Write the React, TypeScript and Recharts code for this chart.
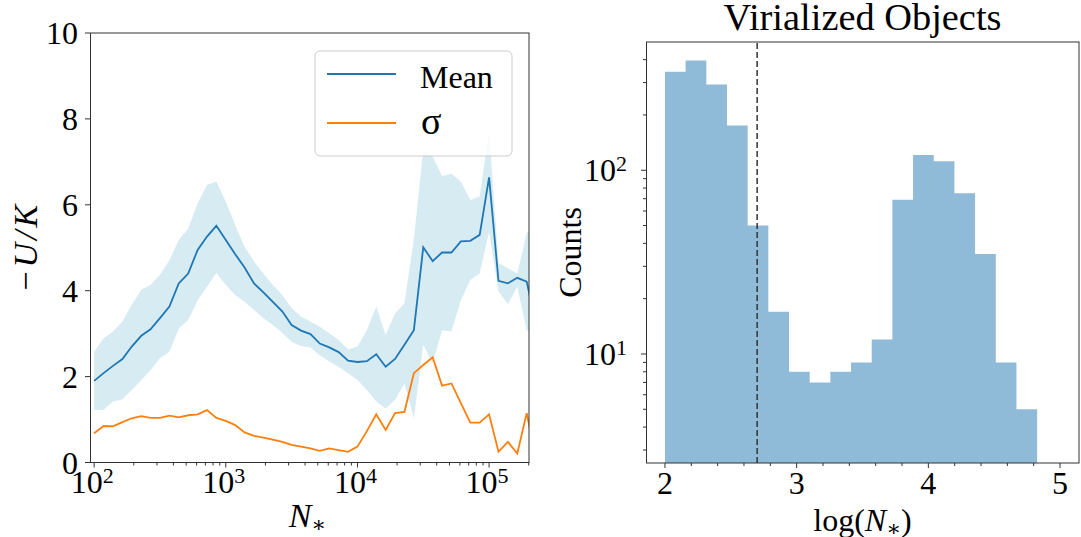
import React from 'react';
import { ComposedChart, Line, Area, XAxis, YAxis, ReferenceLine } from 'recharts';

// left panel: N_* bins (log spaced), mean of -U/K, its spread and sigma
const nStars = [
  100, 118, 139, 164, 193, 228, 268, 316, 373, 439, 518, 611, 720, 848,
  1000, 1179, 1389, 1638, 1931, 2276, 2683, 3162, 3728, 4394, 5179, 6105, 7197, 8483,
  10000, 11788, 13895, 16379, 19307, 22758, 26827, 31623, 37276, 43940, 51795, 61054, 71969, 84834,
  100000, 117877, 138950, 163789, 193070, 227585,
];
const meanRatio = [
  1.9, 2.08, 2.25, 2.41, 2.7, 2.95, 3.1, 3.36, 3.63, 4.17, 4.4, 4.95, 5.26, 5.51,
  5.18, 4.85, 4.54, 4.17, 3.96, 3.74, 3.52, 3.2, 3.07, 2.99, 2.77, 2.68, 2.57, 2.37,
  2.34, 2.36, 2.52, 2.23, 2.41, 2.74, 3.08, 5.01, 4.69, 4.89, 4.89, 5.15, 5.16, 5.3,
  6.64, 4.23, 4.17, 4.3, 4.21, 3.2,
];
const upperRatio = [
  2.58, 2.89, 3.05, 3.28, 3.67, 4.02, 4.13, 4.37, 4.71, 5.18, 5.45, 6.03, 6.46, 6.54,
  6.07, 5.53, 5.02, 4.68, 4.4, 4.13, 3.9, 3.59, 3.4, 3.28, 3.16, 3.01, 2.85, 2.63,
  2.7, 3.08, 3.63, 2.97, 3.47, 3.71, 5.2, 7.28, 7.12, 6.67, 6.72, 6.54, 6.11, 6.2,
  7.7, 4.64, 4.52, 4.4, 5.34, 5.6,
];
const lowerRatio = [
  1.22, 1.23, 1.42, 1.47, 1.69, 1.92, 2.15, 2.43, 2.58, 3.12, 3.32, 3.78, 4.09, 4.42,
  4.13, 3.9, 3.74, 3.55, 3.36, 3.2, 3.02, 2.81, 2.71, 2.68, 2.5, 2.35, 2.23, 2.08,
  1.92, 1.69, 1.42, 1.26, 1.46, 1.84, 1.03, 2.74, 2.31, 3.08, 3.05, 3.78, 4.25, 4.4,
  5.37, 3.98, 3.69, 4.09, 3.08, 3.0,
];
const sigmaRatio = [
  0.68, 0.85, 0.84, 0.94, 1.03, 1.08, 1.04, 1.04, 1.09, 1.05, 1.1, 1.12, 1.22, 1.04,
  0.97, 0.87, 0.7, 0.62, 0.58, 0.53, 0.48, 0.41, 0.37, 0.33, 0.27, 0.33, 0.29, 0.25,
  0.37, 0.73, 1.12, 0.76, 1.15, 1.18, 2.08, 2.27, 2.45, 1.79, 1.84, 1.38, 0.93, 0.93,
  1.12, 0.25, 0.48, 0.21, 1.15, 0.05,
];

const xMajorTicks = [100, 1000, 10000, 100000];
const xMajorExponents = ['2', '3', '4', '5'];
const xMinorTicks = [
  200, 300, 400, 500, 600, 700, 800, 900,
  2000, 3000, 4000, 5000, 6000, 7000, 8000, 9000,
  20000, 30000, 40000, 50000, 60000, 70000, 80000, 90000,
  200000,
];
const yTicksLeft = [0, 2, 4, 6, 8, 10];

// right panel: histogram of log(N_*)
const binEdges = [
  2.0, 2.157, 2.314, 2.471, 2.628, 2.785, 2.942, 3.099, 3.256, 3.413,
  3.57, 3.727, 3.884, 4.041, 4.198, 4.355, 4.512, 4.669, 4.826,
];
const binCounts = [344, 396, 293, 175, 50, 17, 8, 7, 8, 9, 12, 69, 121, 112, 75, 35, 9, 5];
const cutLogN = 2.7;

const histXMajor = [2, 3, 4, 5];
const histXMinor = [2.2, 2.4, 2.6, 2.8, 3.2, 3.4, 3.6, 3.8, 4.2, 4.4, 4.6, 4.8];
const histYMajor = [10, 100];
const histYExponents = ['1', '2'];
const histYMinor = [3, 4, 5, 6, 7, 8, 9, 20, 30, 40, 50, 60, 70, 80, 90, 200, 300, 400];

const leftData = nStars.map((n, i) => ({
  n,
  mean: meanRatio[i],
  band: [lowerRatio[i], upperRatio[i]],
  sigma: sigmaRatio[i],
}));

// step area needs the closing edge, repeating the last count
const histData = binEdges.map((edge, i) => ({
  edge,
  count: binCounts[Math.min(i, binCounts.length - 1)],
}));

const FONT = '"Liberation Serif", "DejaVu Serif", serif';
const INK = '#333';

const LogXTick = (props: any) => {
  const { x, y, payload } = props;
  const idx = xMajorTicks.indexOf(payload.value);
  const major = idx >= 0;
  return (
    <g>
      <line x1={x} x2={x} y1={y} y2={y + (major ? 5 : 3)} stroke={INK} strokeWidth={1} />
      {major && (
        <text x={x - 2} y={y + 30} textAnchor="middle" fontSize={32} fontFamily={FONT} fill="#000">
          10
          <tspan dy={-10} fontSize={22}>{xMajorExponents[idx]}</tspan>
        </text>
      )}
    </g>
  );
};

const LinearYTick = (props: any) => {
  const { x, y, payload } = props;
  return (
    <g>
      <line x1={x} x2={x - 5} y1={y} y2={y} stroke={INK} strokeWidth={1} />
      <text x={x - 12} y={y + 11} textAnchor="end" fontSize={32} fontFamily={FONT} fill="#000">
        {payload.value}
      </text>
    </g>
  );
};

const HistXTick = (props: any) => {
  const { x, y, payload } = props;
  const major = histXMajor.includes(payload.value);
  return (
    <g>
      <line x1={x} x2={x} y1={y} y2={y + (major ? 5 : 3)} stroke={INK} strokeWidth={1} />
      {major && (
        <text x={x} y={y + 31} textAnchor="middle" fontSize={32} fontFamily={FONT} fill="#000">
          {payload.value}
        </text>
      )}
    </g>
  );
};

const LogYTick = (props: any) => {
  const { x, y, payload } = props;
  const idx = histYMajor.indexOf(payload.value);
  const major = idx >= 0;
  return (
    <g>
      <line x1={x} x2={x - (major ? 5 : 3)} y1={y} y2={y} stroke={INK} strokeWidth={1} />
      {major && (
        <text x={x - 19} y={y + 11} textAnchor="end" fontSize={32} fontFamily={FONT} fill="#000">
          10
          <tspan dy={-10} fontSize={22}>{histYExponents[idx]}</tspan>
        </text>
      )}
    </g>
  );
};

const App = () => {
  return (
    <div
      style={{
        position: 'absolute',
        left: 0,
        top: 0,
        width: 1081,
        height: 537,
        background: '#fff',
        fontFamily: FONT,
      }}
    >
      {/* left panel */}
      <div style={{ position: 'absolute', left: 0, top: 0 }}>
        <ComposedChart width={540} height={537} data={leftData} margin={{ top: 33, right: 11, left: 0, bottom: 0 }}>
          <XAxis
            dataKey="n"
            type="number"
            scale="log"
            domain={[93, 201000]}
            allowDataOverflow
            ticks={[...xMajorTicks, ...xMinorTicks]}
            interval={0}
            height={74.5}
            tickSize={0}
            tickMargin={0}
            axisLine={false}
            tickLine={false}
            tick={<LogXTick />}
            label={{
              content: (p: any) => (
                <text
                  x={p.viewBox.x + p.viewBox.width / 2 - 2}
                  y={p.viewBox.y + 64.5}
                  textAnchor="middle"
                  fontSize={34}
                  fontFamily={FONT}
                  fill="#000"
                >
                  <tspan fontStyle="italic">N</tspan>
                  <tspan fontSize={22} dy={5}>∗</tspan>
                </text>
              ),
            }}
          />
          <YAxis
            type="number"
            domain={[0, 10]}
            ticks={yTicksLeft}
            interval={0}
            width={90}
            tickSize={0}
            tickMargin={0}
            axisLine={false}
            tickLine={false}
            tick={<LinearYTick />}
            label={{
              content: (p: any) => (
                <text
                  transform={`translate(${p.viewBox.x + 36.5},${p.viewBox.y + p.viewBox.height / 2}) rotate(-90)`}
                  textAnchor="middle"
                  fontSize={34}
                  fontFamily={FONT}
                  fill="#000"
                >
                  <tspan>−</tspan>
                  <tspan dx={4} fontStyle="italic">U</tspan>
                  <tspan dx={3} fontStyle="italic">/</tspan>
                  <tspan dx={3} fontStyle="italic">K</tspan>
                </text>
              ),
            }}
          />
          <Area
            dataKey="band"
            type="linear"
            stroke="none"
            fill="#add8e6"
            fillOpacity={0.5}
            isAnimationActive={false}
            activeDot={false}
          />
          <Line
            dataKey="mean"
            type="linear"
            stroke="#1f77b4"
            strokeWidth={1.8}
            dot={false}
            activeDot={false}
            isAnimationActive={false}
          />
          <Line
            dataKey="sigma"
            type="linear"
            stroke="#ff7f0e"
            strokeWidth={1.8}
            dot={false}
            activeDot={false}
            isAnimationActive={false}
          />
        </ComposedChart>
      </div>

      {/* right panel */}
      <div style={{ position: 'absolute', left: 540, top: 0 }}>
        <ComposedChart width={541} height={537} data={histData} margin={{ top: 42, right: 2, left: 0, bottom: 0 }}>
          <XAxis
            dataKey="edge"
            type="number"
            domain={[1.856, 5.144]}
            allowDataOverflow
            ticks={[...histXMajor, ...histXMinor]}
            interval={0}
            height={74}
            tickSize={0}
            tickMargin={0}
            axisLine={false}
            tickLine={false}
            tick={<HistXTick />}
            label={{
              content: (p: any) => (
                <text
                  x={p.viewBox.x + p.viewBox.width / 2}
                  y={p.viewBox.y + 68}
                  textAnchor="middle"
                  fontSize={32}
                  fontFamily={FONT}
                  fill="#000"
                >
                  <tspan>log(</tspan>
                  <tspan fontStyle="italic">N</tspan>
                  <tspan fontSize={22} dy={5}>∗</tspan>
                  <tspan dy={-5}>)</tspan>
                </text>
              ),
            }}
          />
          <YAxis
            type="number"
            scale="log"
            domain={[2.55, 499]}
            allowDataOverflow
            ticks={[...histYMajor, ...histYMinor]}
            interval={0}
            width={106}
            tickSize={0}
            tickMargin={0}
            axisLine={false}
            tickLine={false}
            tick={<LogYTick />}
            label={{
              content: (p: any) => (
                <text
                  transform={`translate(${p.viewBox.x + 41},${p.viewBox.y + p.viewBox.height / 2}) rotate(-90)`}
                  textAnchor="middle"
                  fontSize={32}
                  fontFamily={FONT}
                  fill="#000"
                >
                  Counts
                </text>
              ),
            }}
          />
          <Area
            dataKey="count"
            type="stepAfter"
            stroke="none"
            fill="#8fbbd9"
            fillOpacity={1}
            baseValue="dataMin"
            isAnimationActive={false}
            activeDot={false}
          />
          <ReferenceLine x={cutLogN} stroke={INK} strokeWidth={1.5} strokeDasharray="6 3" />
        </ComposedChart>
      </div>

      {/* frames, title and legend */}
      <svg
        width={1081}
        height={537}
        style={{ position: 'absolute', left: 0, top: 0, pointerEvents: 'none' }}
      >
        <rect x={90.5} y={33} width={438.5} height={429.5} fill="none" stroke={INK} strokeWidth={1} />
        <rect x={646.5} y={42} width={432.5} height={421} fill="none" stroke={INK} strokeWidth={1} />
        <text x={862.5} y={30} textAnchor="middle" fontSize={38.4} fontFamily={FONT} fill="#000">
          Virialized Objects
        </text>
        <rect x={315} y={51} width={197} height={105} rx={5} fill="#fff" fillOpacity={0.8} stroke="#ccc" />
        <line x1={327} x2={396} y1={74} y2={74} stroke="#1f77b4" strokeWidth={2} />
        <text x={420} y={88} fontSize={32} fontFamily={FONT} fill="#000">Mean</text>
        <line x1={327} x2={396} y1={123} y2={123} stroke="#ff7f0e" strokeWidth={2} />
        <text x={421} y={134} fontSize={38} fontFamily={FONT} fill="#000">σ</text>
      </svg>
    </div>
  );
};

export default App;
